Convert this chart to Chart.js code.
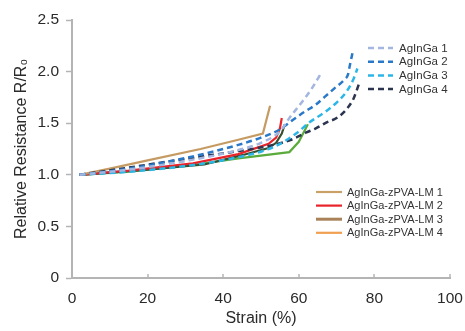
<!DOCTYPE html>
<html><head><meta charset="utf-8">
<script src="https://cdn.jsdelivr.net/npm/chart.js@4/dist/chart.umd.min.js"></script>
<style>html,body{margin:0;padding:0;background:#fff}#wrap{width:465px;height:331px}</style>
</head><body><div id="wrap"><canvas id="c" width="465" height="331"></canvas></div>
<script>
// ---- data ----
const seriesLabels = ['AgInGa 1','AgInGa 2','AgInGa 3','AgInGa 4',
  'AgInGa-zPVA-LM 1','AgInGa-zPVA-LM 2','AgInGa-zPVA-LM 3','AgInGa-zPVA-LM 4'];

const ag1Strain = [2, 15, 31, 44, 50, 55, 57.7, 60.3, 63.5, 66];
const ag1Res    = [1, 1.05, 1.14, 1.24, 1.31, 1.42, 1.56, 1.68, 1.84, 1.99];

const ag2Strain = [2, 15, 31, 44, 50, 55, 58, 61.5, 64.5, 67, 69.5, 72, 73, 73.5, 74.2];
const ag2Res    = [1, 1.06, 1.17, 1.29, 1.36, 1.44, 1.52, 1.61, 1.68, 1.76, 1.84, 1.92, 1.97, 2.06, 2.18];

const ag3Strain = [2, 15, 31, 44, 52, 56, 60, 62.5, 67, 70, 72.5, 74.5, 75.5];
const ag3Res    = [1, 1.03, 1.09, 1.17, 1.25, 1.32, 1.42, 1.5, 1.61, 1.7, 1.8, 1.93, 2.03];

const ag4Strain = [2, 15, 31, 44, 52, 58, 62, 64.5, 67.5, 70, 72.5, 74.5, 76];
const ag4Res    = [1, 1.07, 1.16, 1.23, 1.28, 1.34, 1.41, 1.45, 1.51, 1.55, 1.63, 1.74, 1.89];

const lm1Strain = [2, 10, 20, 34, 44, 50.5, 52.4];
const lm1Res    = [1, 1.06, 1.14, 1.25, 1.34, 1.40, 1.67];

const lm2Strain = [2, 15, 32, 44, 52, 54, 55, 55.5];
const lm2Res    = [1, 1.04, 1.11, 1.2, 1.3, 1.36, 1.45, 1.55];

const lm3Strain = [2, 20, 35, 45, 52, 54, 55.5, 56.3];
const lm3Res    = [1, 1.05, 1.1, 1.19, 1.26, 1.31, 1.40, 1.49];

const lm4Strain = [2, 15, 31, 44, 57.5, 60, 62.4];
const lm4Res    = [1, 1.03, 1.09, 1.16, 1.22, 1.32, 1.49];

const xTicks = [0, 20, 40, 60, 80, 100];
const yTicks = [0, 0.5, 1, 1.5, 2, 2.5];

// ---- styles ----
const lineColors = ['#a3b6e0','#2a78c8','#2cb6e8','#2b3550','#c59b63','#e8232a','#37502d','#5aab3c'];
const legendColors = ['#a3b6e0','#2a78c8','#2cb6e8','#2b3550','#c8a068','#e8232a','#a9825a','#f0a050'];

const strains = [ag1Strain, ag2Strain, ag3Strain, ag4Strain, lm1Strain, lm2Strain, lm3Strain, lm4Strain];
const resists = [ag1Res, ag2Res, ag3Res, ag4Res, lm1Res, lm2Res, lm3Res, lm4Res];

const datasets = seriesLabels.map((lab, i) => {
  const dashed = i < 4;
  return {
    label: lab,
    data: strains[i].map((x, k) => ({x, y: resists[i][k]})),
    borderColor: lineColors[i],
    backgroundColor: lineColors[i],
    borderWidth: dashed ? 2.5 : 2.2,
    borderDash: dashed ? [6, 4] : [],
    pointRadius: 0,
    fill: false,
    cubicInterpolationMode: dashed ? 'monotone' : 'default',
    tension: dashed ? 0.4 : 0
  };
});

const FONT = '"Liberation Sans", Arial, Helvetica, sans-serif';

const extras = {
  id: 'extras',
  afterDraw(chart) {
    const ctx = chart.ctx;
    const xs = chart.scales.x;
    ctx.save();
    // inward x tick marks
    ctx.strokeStyle = '#b4b4b4';
    ctx.lineWidth = 1.5;
    xTicks.forEach(v => {
      if (v === 0) return;
      const px = Math.round(xs.getPixelForValue(v));
      ctx.beginPath();
      ctx.moveTo(px, xs.top);
      ctx.lineTo(px, xs.top - 4);
      ctx.stroke();
    });
    // legends
    const groups = [
      {idx: [0,1,2,3], x0: 368, x1: 393, tx: 399, y0: 48, dy: 13.7, font: '11.5px ' + FONT},
      {idx: [4,5,6,7], x0: 316, x1: 342, tx: 347, y0: 192, dy: 13.6, font: '11px ' + FONT}
    ];
    groups.forEach(g => {
      g.idx.forEach((di, r) => {
        const ds = chart.data.datasets[di];
        const y = g.y0 + r * g.dy;
        ctx.beginPath();
        ctx.setLineDash(ds.borderDash || []);
        ctx.strokeStyle = legendColors[di];
        ctx.lineWidth = di === 6 ? 3 : ds.borderWidth;
        ctx.moveTo(g.x0, y);
        ctx.lineTo(g.x1, y);
        ctx.stroke();
        ctx.setLineDash([]);
        ctx.fillStyle = '#333';
        ctx.font = g.font;
        ctx.textBaseline = 'middle';
        ctx.textAlign = 'left';
        ctx.fillText(ds.label, g.tx, y + 0.5);
      });
    });
    ctx.restore();
  }
};

new Chart(document.getElementById('c'), {
  type: 'line',
  data: { datasets },
  options: {
    responsive: false,
    animation: false,
    layout: { padding: { top: 20, right: 15, left: 0, bottom: 0 } },
    plugins: { legend: { display: false }, tooltip: { enabled: false } },
    scales: {
      x: {
        type: 'linear', min: 0, max: 100,
        afterBuildTicks: s => { s.ticks = xTicks.map(v => ({value: v})); },
        afterFit: s => { s.height = 53; s.paddingRight = 0; s.paddingLeft = 0; },
        grid: { display: true, drawOnChartArea: false, drawTicks: false, color: '#b4b4b4' },
        border: { color: '#b4b4b4', width: 2 },
        ticks: { color: '#2a2a2a', font: { family: FONT, size: 15.5 }, padding: 11, maxRotation: 0 },
        title: { display: true, text: 'Strain (%)', color: '#2a2a2a', font: { family: FONT, size: 16 }, padding: { top: 0, bottom: 3 } }
      },
      y: {
        type: 'linear', min: 0, max: 2.5,
        afterBuildTicks: s => { s.ticks = yTicks.map(v => ({value: v})); },
        afterFit: s => { s.width = 72; s.paddingTop = 0; s.paddingBottom = 0; },
        grid: { display: true, drawOnChartArea: false, drawTicks: true, tickLength: 6, color: '#b4b4b4', tickWidth: 1.5 },
        border: { color: '#b4b4b4', width: 2 },
        ticks: { color: '#2a2a2a', font: { family: FONT, size: 15.5 }, padding: 7 },
        title: { display: true, text: 'Relative Resistance R/R\u2080', color: '#2a2a2a', font: { family: FONT, size: 16 }, padding: { top: 12, bottom: 0 } }
      }
    }
  },
  plugins: [extras]
});
</script>
</body></html>
